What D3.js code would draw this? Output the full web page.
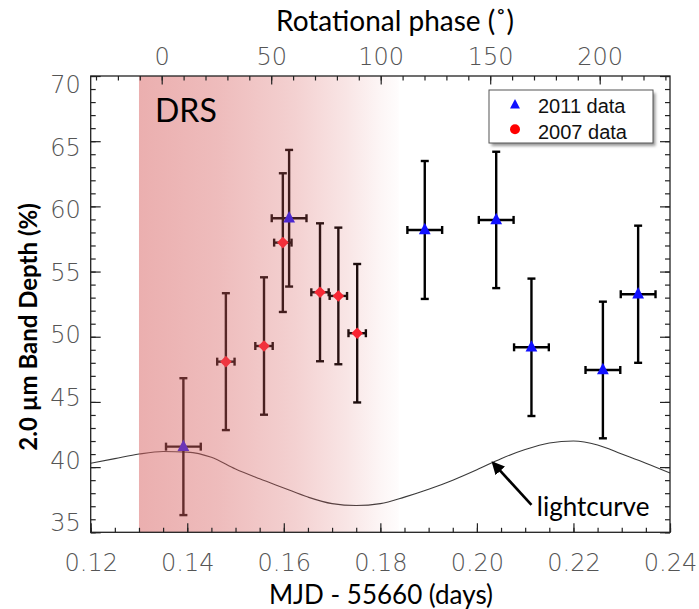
<!DOCTYPE html>
<html><head><meta charset="utf-8">
<script src="https://cdn.jsdelivr.net/npm/d3@7"></script>
<style>body{margin:0;background:#fff}svg{display:block}</style>
</head><body><svg id="c" width="699" height="609"></svg>
<script>
// ---- data ----
const t2011  = [0.1392, 0.1611, 0.1892, 0.2040, 0.2113, 0.2261, 0.2334];
const d2011  = [41.57, 59.09, 58.19, 58.96, 49.19, 47.45, 53.26];
const e2011  = [5.25, 5.24, 5.29, 5.23, 5.27, 5.24, 5.26];
const xe2011 = [0.0036, 0.0036, 0.0036, 0.0036, 0.0036, 0.0036, 0.0036];

const t2007  = [0.1480, 0.1559, 0.1598, 0.1675, 0.1713, 0.1752];
const d2007  = [48.09, 49.29, 57.22, 53.41, 53.13, 50.27];
const e2007  = [5.25, 5.27, 5.32, 5.29, 5.24, 5.31];
const xe2007 = [0.0018, 0.0018, 0.0018, 0.0018, 0.0018, 0.0018];

const lcTime  = [0.120,0.125,0.130,0.135,0.140,0.145,0.150,0.155,0.160,0.165,0.170,0.175,0.180,0.185,0.190,0.195,0.200,0.205,0.210,0.215,0.220,0.225,0.230,0.235,0.240];
const lcDepth = [40.3,40.65,41.0,41.2,41.15,40.75,39.85,39.1,38.4,37.7,37.2,37.05,37.2,37.7,38.3,39.0,39.8,40.65,41.35,41.85,42.0,41.7,41.0,40.3,39.55];

const xMajor = [0.12,0.14,0.16,0.18,0.20,0.22,0.24];
const yMajor = [35,40,45,50,55,60,65,70];
const phaseMajor = [0,50,100,150,200];
const drsRange = [0.13, 0.1838];

const legendLabels = ["2011 data", "2007 data"];

// ---- layout ----
const L = 90.7, R = 670, T = 76, B = 532.3;
const svg = d3.select("#c");
const x = d3.scaleLinear().domain([0.12, 0.24]).range([L, R]);
const y = d3.scaleLinear().domain([35, 70]).range([B, T]);
const xp = d3.scaleLinear().domain([-32.42, 232.1]).range([L, R]);

const tickFont = "'DejaVu Sans', sans-serif";
const labFont = "Lato, 'Open Sans', sans-serif";

// ---- lightcurve ----
const line = d3.line().x((d,i)=>x(lcTime[i])).y((d,i)=>y(lcDepth[i])).curve(d3.curveMonotoneX);
svg.append("path").datum(lcDepth).attr("d", line)
  .attr("fill","none").attr("stroke","#3a3a3a").attr("stroke-width",1.1);

// ---- error bars + markers ----
function errorBars(ts, ds, es, xes) {
  const g = svg.append("g").attr("stroke","#000").attr("stroke-width",2.4).attr("fill","none");
  ts.forEach((t,i)=>{
    const cx = x(t), cy = y(ds[i]);
    const y1 = y(ds[i]+es[i]), y2 = y(ds[i]-es[i]);
    const x1 = x(t-xes[i]), x2 = x(t+xes[i]);
    g.append("line").attr("x1",cx).attr("x2",cx).attr("y1",y1).attr("y2",y2);
    g.append("line").attr("x1",cx-4).attr("x2",cx+4).attr("y1",y1).attr("y2",y1);
    g.append("line").attr("x1",cx-4).attr("x2",cx+4).attr("y1",y2).attr("y2",y2);
    g.append("line").attr("x1",x1).attr("x2",x2).attr("y1",cy).attr("y2",cy);
    g.append("line").attr("x1",x1).attr("x2",x1).attr("y1",cy-4).attr("y2",cy+4);
    g.append("line").attr("x1",x2).attr("x2",x2).attr("y1",cy-4).attr("y2",cy+4);
  });
}
errorBars(t2011, d2011, e2011, xe2011);
errorBars(t2007, d2007, e2007, xe2007);

const triPath = (cx,cy,s)=>`M${cx},${cy-s*0.75}L${cx+s*0.62},${cy+s*0.45}L${cx-s*0.62},${cy+s*0.45}Z`;
const diaPath = (cx,cy,s)=>`M${cx},${cy-s}L${cx+s},${cy}L${cx},${cy+s}L${cx-s},${cy}Z`;

svg.append("g").selectAll("path").data(t2011).join("path")
  .attr("d",(t,i)=>triPath(x(t), y(d2011[i]), 9.5)).attr("fill","#1010ff");
svg.append("g").selectAll("path").data(t2007).join("path")
  .attr("d",(t,i)=>diaPath(x(t), y(d2007[i]), 5.8)).attr("fill","#ff1a2a");

// ---- DRS shaded overlay ----
const defs = svg.append("defs");
const grad = defs.append("linearGradient").attr("id","drs").attr("x1","0").attr("x2","1").attr("y1","0").attr("y2","0");
[[0,0.5],[0.3,0.42],[0.6,0.29],[0.8,0.16],[0.93,0.06],[1,0.015]].forEach(([o,a])=>{
  grad.append("stop").attr("offset",o).attr("stop-color","rgb(215,95,95)").attr("stop-opacity",a);
});
svg.append("rect").attr("x",x(drsRange[0])).attr("y",T)
  .attr("width",x(drsRange[1])-x(drsRange[0])).attr("height",B-T)
  .attr("fill","url(#drs)");

// ---- axes ----
function styleAxis(g){ g.select(".domain").remove(); g.selectAll("line").attr("stroke","#222").attr("stroke-width",1.2); }
const xMinor = d3.range(0.12, 0.2401, 0.005).map(v=>+v.toFixed(3));
const yMinor = d3.range(35, 70.01, 1);
const pMinor = d3.range(-30, 231, 10);

// bottom
svg.append("g").attr("transform",`translate(0,${B})`)
  .call(d3.axisBottom(x).tickValues(xMinor).tickSize(-4.5).tickFormat("")).call(styleAxis);
const bx = svg.append("g").attr("transform",`translate(0,${B})`)
  .call(d3.axisBottom(x).tickValues(xMajor).tickSize(-9).tickPadding(22).tickFormat(d3.format(".2f"))).call(styleAxis);
// top
svg.append("g").attr("transform",`translate(0,${T})`)
  .call(d3.axisTop(xp).tickValues(pMinor).tickSize(-4.5).tickFormat("")).call(styleAxis);
const tx = svg.append("g").attr("transform",`translate(0,${T})`)
  .call(d3.axisTop(xp).tickValues(phaseMajor).tickSize(-8.5).tickPadding(11).tickFormat(d3.format("d"))).call(styleAxis);
// left
svg.append("g").attr("transform",`translate(${L},0)`)
  .call(d3.axisLeft(y).tickValues(yMinor).tickSize(-5).tickFormat("")).call(styleAxis);
const ly = svg.append("g").attr("transform",`translate(${L},0)`)
  .call(d3.axisLeft(y).tickValues(yMajor).tickSize(-10).tickPadding(10).tickFormat(d3.format("d"))).call(styleAxis);
// right
svg.append("g").attr("transform",`translate(${R},0)`)
  .call(d3.axisRight(y).tickValues(yMinor).tickSize(-5).tickFormat("")).call(styleAxis);
svg.append("g").attr("transform",`translate(${R},0)`)
  .call(d3.axisRight(y).tickValues(yMajor).tickSize(-10).tickFormat("")).call(styleAxis);

[bx,tx,ly].forEach(g=>g.selectAll("text").attr("font-family",tickFont).attr("font-size",24)
  .attr("font-weight",200).attr("fill","#555"));
ly.selectAll(".tick text").attr("transform", d=>`translate(0,${9 - (70-d)*0.523})`);

// frame
svg.append("rect").attr("x",L).attr("y",T).attr("width",R-L).attr("height",B-T)
  .attr("fill","none").attr("stroke","#222").attr("stroke-width",1.3);

// ---- titles ----
svg.append("text").attr("x",395).attr("y",31).attr("text-anchor","middle")
  .attr("font-family",labFont).attr("font-size",28).attr("fill","#000").text("Rotational phase (˚)");
svg.append("text").attr("x",381).attr("y",604).attr("text-anchor","middle")
  .attr("font-family",labFont).attr("font-size",26).attr("fill","#000").text("MJD - 55660 (days)");
svg.append("text").attr("transform","translate(37,327) rotate(-90)").attr("text-anchor","middle")
  .attr("font-family",labFont).attr("font-weight","bold").attr("font-size",24).attr("fill","#000")
  .text("2.0 µm Band Depth (%)");

// DRS label
svg.append("text").attr("x",155).attr("y",121.7).attr("font-family",labFont)
  .attr("font-size",32).attr("fill","#000").text("DRS");

// ---- lightcurve annotation ----
const tipX = x(0.2034), tipY = y(40.3), tailX = x(0.2113), tailY = y(37.1);
defs.append("marker").attr("id","ah").attr("viewBox","0 0 10 10").attr("refX",8).attr("refY",5)
  .attr("markerWidth",5).attr("markerHeight",5).attr("orient","auto")
  .append("path").attr("d","M0,0L10,5L0,10Z").attr("fill","#000");
svg.append("line").attr("x1",tailX).attr("y1",tailY).attr("x2",tipX).attr("y2",tipY)
  .attr("stroke","#000").attr("stroke-width",2.6).attr("marker-end","url(#ah)");
svg.append("text").attr("x",x(0.2124)).attr("y",y(36.26)).attr("font-family",labFont)
  .attr("font-size",26).attr("fill","#000").text("lightcurve");

// ---- legend ----
const lg = svg.append("g");
const lgX = 489, lgY = 90, lgW = 164, lgH = 53;
defs.append("filter").attr("id","sh").attr("x","-10%").attr("y","-10%").attr("width","130%").attr("height","140%")
  .append("feGaussianBlur").attr("stdDeviation",1.5);
lg.append("rect").attr("x",lgX+2.5).attr("y",lgY+3).attr("width",lgW).attr("height",lgH)
  .attr("fill","#999").attr("filter","url(#sh)");
lg.append("rect").attr("x",lgX).attr("y",lgY).attr("width",lgW).attr("height",lgH)
  .attr("fill","#fff").attr("stroke","#555").attr("stroke-width",1);
lg.append("path").attr("d",triPath(515,105,8)).attr("fill","#1010ff");
lg.append("circle").attr("cx",515).attr("cy",129.3).attr("r",5).attr("fill","#ff0000");
legendLabels.forEach((s,i)=>{
  lg.append("text").attr("x",538).attr("y",113 + i*25.5).attr("font-family","'Liberation Sans', Arial, sans-serif")
    .attr("font-size",20).attr("fill","#111").text(s);
});
</script></body></html>
